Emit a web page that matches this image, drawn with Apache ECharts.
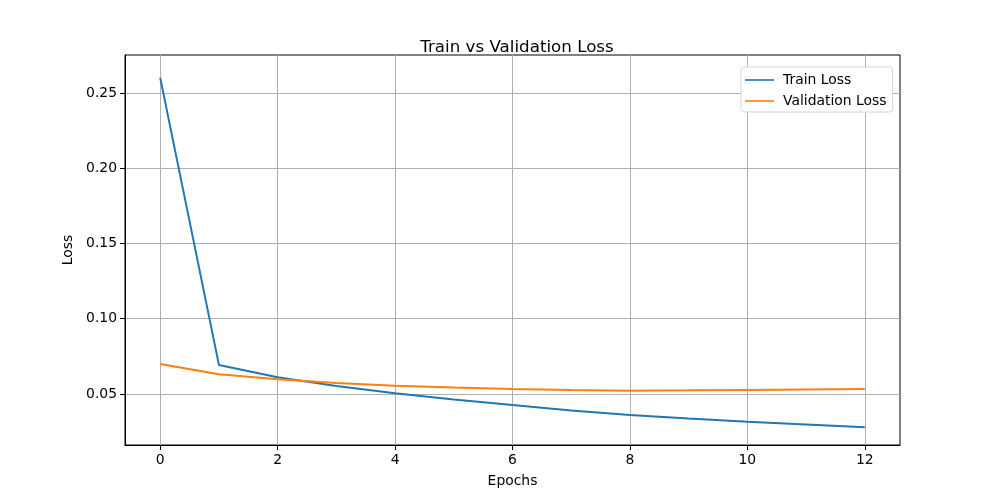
<!DOCTYPE html>
<html>
<head>
<meta charset="utf-8">
<script src="https://cdn.jsdelivr.net/npm/echarts@6/dist/echarts.min.js"></script>
<style>
  html, body { margin: 0; padding: 0; background: #fff; }
  #chart { width: 1000px; height: 500px; }
</style>
</head>
<body>
<div id="chart"></div>
<script>
// values
var epochs = [0, 1, 2, 3, 4, 5, 6, 7, 8, 9, 10, 11, 12];
var trainLoss = [0.2600, 0.0693, 0.0611, 0.0553, 0.0505, 0.0463, 0.0427, 0.0391, 0.0360, 0.0337, 0.0316, 0.0297, 0.0279];
var valLoss = [0.0699, 0.0631, 0.0598, 0.0573, 0.0555, 0.0543, 0.0533, 0.0527, 0.0522, 0.0524, 0.0527, 0.0530, 0.0533];
var xTicks = [0, 2, 4, 6, 8, 10, 12];
var yTicks = [0.05, 0.10, 0.15, 0.20, 0.25];

var font = 'DejaVu Sans';
// plain line for the legend, no marker (the M points keep the box 29x14)
var lineIcon = 'path://M0,0L0,0M0,6.2H29V7.8H0ZM29,14L29,14';

function pairs(xs, ys) {
  return xs.map(function (x, i) { return [x, ys[i]]; });
}

var myChart = echarts.init(document.getElementById('chart'));

myChart.setOption({
  backgroundColor: '#ffffff',
  animation: false,
  title: {
    text: 'Train vs Validation Loss',
    left: 512,
    textAlign: 'center',
    top: 34,
    textStyle: { fontFamily: font, fontSize: 16.7, fontWeight: 'normal', color: '#000' }
  },
  legend: {
    orient: 'vertical',
    left: 741,
    top: 67,
    padding: [6, 6, 4, 4],
    icon: lineIcon,
    itemWidth: 29,
    itemHeight: 14,
    itemGap: 7,
    itemStyle: { borderWidth: 0 },
    backgroundColor: '#fff',
    borderColor: '#d6d6d6',
    borderWidth: 1,
    borderRadius: 3,
    textStyle: { fontFamily: font, fontSize: 13.9, color: '#000', padding: [0, 0, 0, 4] },
    data: ['Train Loss', 'Validation Loss']
  },
  grid: {
    left: 125,
    right: 100,
    top: 55,
    bottom: 55,
    show: true,
    borderColor: '#000',
    borderWidth: 1
  },
  xAxis: {
    type: 'value',
    min: -0.6,
    max: 12.6,
    name: 'Epochs',
    nameLocation: 'middle',
    nameGap: 29,
    nameTextStyle: { fontFamily: font, fontSize: 13.9, color: '#000' },
    axisLine: { show: true, onZero: false, lineStyle: { color: '#000', width: 1 } },
    axisTick: { show: true, inside: false, length: 5, lineStyle: { color: '#000' }, customValues: xTicks },
    axisLabel: { fontFamily: font, fontSize: 13.9, color: '#000', margin: 8, customValues: xTicks },
    splitLine: { show: true, lineStyle: { color: '#b0b0b0', width: 1 } }
  },
  yAxis: {
    type: 'value',
    min: 0.0161,
    max: 0.2752,
    name: 'Loss',
    nameLocation: 'middle',
    nameGap: 46,
    nameTextStyle: { fontFamily: font, fontSize: 13.9, color: '#000' },
    axisLine: { show: true, onZero: false, lineStyle: { color: '#000', width: 1 } },
    axisTick: { show: true, inside: false, length: 5, lineStyle: { color: '#000' }, customValues: yTicks },
    axisLabel: {
      fontFamily: font, fontSize: 13.9, color: '#000', margin: 8, customValues: yTicks,
      formatter: function (v) { return v.toFixed(2); }
    },
    splitLine: { show: true, lineStyle: { color: '#b0b0b0', width: 1 } }
  },
  series: [{
    name: 'Train Loss',
    type: 'line',
    symbol: 'none',
    color: '#1f77b4',
    lineStyle: { color: '#1f77b4', width: 2 },
    data: pairs(epochs, trainLoss)
  }, {
    name: 'Validation Loss',
    type: 'line',
    symbol: 'none',
    color: '#ff7f0e',
    lineStyle: { color: '#ff7f0e', width: 2 },
    data: pairs(epochs, valLoss)
  }]
});
</script>
</body>
</html>
